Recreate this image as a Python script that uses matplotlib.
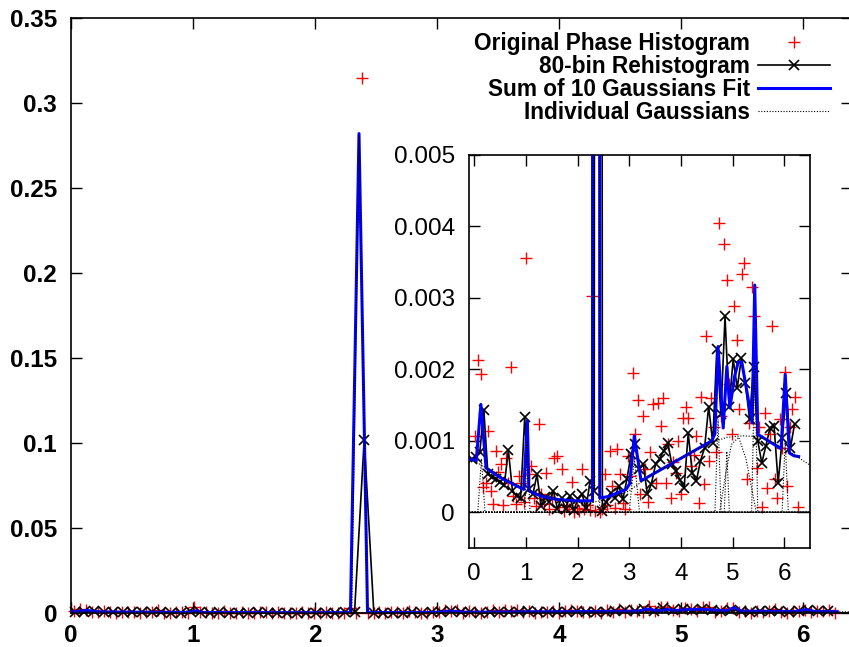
import numpy as np
import matplotlib
matplotlib.use("Agg")
import matplotlib.pyplot as plt
from matplotlib.lines import Line2D
from matplotlib.ticker import FuncFormatter, MultipleLocator

plt.rcParams['font.family'] = ['Liberation Sans', 'DejaVu Sans']

# all y values below are in units of 1e-3
SCALE = 1e-3

# original phase histogram (128 bins over 0..2pi)
orig_vals = [
    1.07, 2.13, 1.94, 0.35, 0.41, 1.14, 0.30, 0.11, 0.86, 0.56,
    0.67, 0.10, 0.76, 0.41, 2.03, 0.23, 0.12, 0.51, 0.41, 0.15,
    3.56, 0.53, 0.65, 0.20, 0.09, 1.23, 0.25, 0.12, 0.55, 0.05,
    0.20, 0.76, 0.79, 0.08, 0.60, 0.02, 0.10, 0.04, 0.43, 0.00,
    0.06, 0.02, 0.61, 0.05, 0.10, 0.03, 3.03, 0.02, 315.0, 0.00,
    0.04, 0.53, 0.10, 0.86, 0.37, 0.06, 0.89, 0.53, 0.13, 0.05,
    0.79, 0.51, 1.95, 1.10, 1.57, 0.25, 1.35, 0.60, 0.15, 0.84,
    1.52, 0.41, 1.53, 1.21, 1.60, 0.41, 0.95, 0.20, 0.70, 0.55,
    1.00, 0.25, 1.32, 1.48, 1.32, 0.65, 0.80, 1.07, 0.13, 1.62,
    0.39, 2.47, 0.72, 1.60, 1.20, 0.85, 4.05, 1.35, 3.75, 3.25,
    1.80, 1.10, 2.89, 2.41, 1.45, 3.33, 3.49, 0.46, 1.25, 3.15,
    2.74, 0.62, 1.20, 0.07, 1.39, 0.34, 1.10, 2.61, 0.46, 0.20,
    1.30, 0.90, 1.97, 0.37, 1.20, 1.44, 1.62, 0.07,
]
orig_x = (np.arange(len(orig_vals)) + 0.5) * 2 * np.pi / len(orig_vals)

# 80-bin rehistogram
rehist_vals = [
    0.74, 0.78, 0.84, 1.43, 0.53, 0.50, 0.46, 0.42, 0.38, 0.87,
    0.30, 0.23, 0.20, 1.33, 0.32, 0.25, 0.53, 0.09, 0.21, 0.15,
    0.30, 0.05, 0.20, 0.05, 0.23, 0.03, 0.18, 0.26, 0.06, 0.44,
    0.30, 102.0, 0.02, 0.15, 0.27, 0.20, 0.37, 0.18, 0.46, 0.81,
    0.95, 0.60, 0.67, 0.25, 0.40, 0.67, 0.75, 0.86, 0.97, 0.67,
    0.58, 0.45, 0.34, 1.11, 0.55, 0.44, 0.72, 0.90, 1.48, 0.97,
    2.29, 1.37, 2.74, 1.48, 2.14, 1.74, 2.16, 1.81, 1.30, 2.04,
    1.00, 0.69, 0.93, 1.18, 1.21, 0.41, 1.04, 1.67, 0.90, 1.23,
]
rehist_x = np.linspace(-0.05, 6.2, len(rehist_vals))

# sum of 10 gaussians fit (as sampled)
fit_x = [-0.1, 0.04, 0.13, 0.23, 0.52, 0.96, 1.03, 1.06, 1.28, 1.60,
         1.92, 2.24, 2.29, 2.36, 2.43, 2.60, 2.94, 3.01, 3.10, 3.23,
         4.60, 4.66, 4.72, 4.82, 4.89, 4.95, 5.04, 5.11, 5.18, 5.30,
         5.38, 5.43, 5.49, 5.94, 6.02, 6.10, 6.19, 6.28]
fit_y = [0.75, 0.72, 1.51, 0.62, 0.48, 0.32, 1.28, 0.30, 0.23, 0.18,
         0.16, 0.16, 0.16, 282.0, 0.20, 0.22, 0.32, 0.40, 1.07, 0.44,
         1.00, 1.10, 2.32, 1.18, 2.04, 1.46, 1.90, 2.10, 2.10, 1.60,
         1.25, 3.18, 1.09, 0.89, 1.93, 0.83, 0.79, 0.78]

# individual gaussians
g_broad_x = [-0.1, 0.3, 0.6, 1.0, 1.4, 1.8, 2.2, 2.6, 3.0, 3.4, 3.8, 4.2, 4.6, 4.9, 5.2, 5.5, 5.8, 6.1, 6.5]
g_broad_y = [0.75, 0.6, 0.47, 0.32, 0.22, 0.15, 0.13, 0.18, 0.3, 0.51, 0.67, 0.84, 0.98, 1.05, 1.07, 1.06, 0.97, 0.85, 0.66]
g_a_x = [-0.1, 0.07, 0.14, 0.21, 6.5]
g_a_y = [0, 0, 0.75, 0, 0]
g_b_x = [-0.1, 0.98, 1.03, 1.08, 6.5]
g_b_y = [0, 0, 1.0, 0, 0]
g_main_x = [-0.1, 2.30, 2.36, 2.43, 6.5]
g_main_y = [0, 0, 281.0, 0, 0]
g_c_x = [-0.1, 3.0, 3.1, 3.2, 6.5]
g_c_y = [0, 0, 0.75, 0, 0]
g_d_x = [-0.1, 4.66, 4.72, 4.78, 6.5]
g_d_y = [0, 0, 1.3, 0, 0]
g_e_x = [-0.1, 4.84, 4.89, 4.94, 6.5]
g_e_y = [0, 0, 0.85, 0, 0]
g_h_x = [-0.1, 4.75, 4.87, 4.98, 5.12, 5.26, 5.46, 6.5]
g_h_y = [0, 0, 0.55, 0.95, 1.05, 0.75, 0, 0]
g_f_x = [-0.1, 5.37, 5.43, 5.49, 6.5]
g_f_y = [0, 0, 2.1, 0, 0]
g_g_x = [-0.1, 5.96, 6.02, 6.08, 6.5]
g_g_y = [0, 0, 1.0, 0, 0]
gaussians = [(g_broad_x, g_broad_y), (g_a_x, g_a_y), (g_b_x, g_b_y), (g_main_x, g_main_y),
             (g_c_x, g_c_y), (g_d_x, g_d_y), (g_e_x, g_e_y), (g_h_x, g_h_y),
             (g_f_x, g_f_y), (g_g_x, g_g_y)]

labels = ["Original Phase Histogram", "80-bin Rehistogram",
          "Sum of 10 Gaussians Fit", "Individual Gaussians"]

FS = 17.5    # tick labels
LFS = 16.3   # legend
dot_style = dict(color="black", lw=0.8, ls=(0, (1, 1.5)))


def draw(ax, main):
    ox = np.asarray(orig_x)
    oy = np.asarray(orig_vals) * SCALE
    rx = np.asarray(rehist_x)
    ry = np.asarray(rehist_vals) * SCALE
    if main:
        keep = rx >= 0
        rx, ry = rx[keep], ry[keep]
    ax.plot(ox, oy, ls="none", marker="+", color="red", ms=8.5, mew=1.0,
            clip_on=not main, zorder=2)
    ax.plot(rx, ry, color="black", lw=1.2, marker="x", ms=7, mew=1.2,
            clip_on=not main, zorder=3)
    ax.plot(fit_x, np.asarray(fit_y) * SCALE, color="blue", lw=2.2, zorder=4)
    for gx, gy in gaussians:
        ax.plot(gx, np.asarray(gy) * SCALE, zorder=5, **dot_style)


fig = plt.figure(figsize=(8.49, 6.47), dpi=100)

# main axes
ax = fig.add_axes([71 / 849, 34 / 647, 781 / 849, 595 / 647])
draw(ax, True)
ax.set_xlim(0, 6.4)
ax.set_ylim(0, 0.35)
ax.xaxis.set_major_locator(MultipleLocator(1))
ax.yaxis.set_major_locator(MultipleLocator(0.05))
ax.yaxis.set_major_formatter(FuncFormatter(lambda v, p: f"{v:g}"))
ax.tick_params(direction="in", top=True, right=True, length=8, width=1,
               labelsize=FS)
ax.tick_params(axis="y", pad=10)
ax.tick_params(axis="x", pad=8)
for t in ax.get_xticklabels() + ax.get_yticklabels():
    t.set_fontweight("bold")
for s in ax.spines.values():
    s.set_linewidth(1.2)

handles = [
    Line2D([], [], ls="none", marker="+", color="red", ms=8.5, mew=1.0),
    Line2D([], [], color="black", lw=1.2, marker="x", ms=7, mew=1.2),
    Line2D([], [], color="blue", lw=2.2),
    Line2D([], [], **dot_style),
]
ax.legend(handles, labels, loc="upper right", bbox_to_anchor=(0.972, 0.977),
          frameon=False, markerfirst=False, handlelength=3.2,
          handletextpad=0.35, labelspacing=0.0, borderpad=0,
          borderaxespad=0, numpoints=1,
          prop={"weight": "bold", "size": LFS})

# inset zoom
axin = fig.add_axes([469 / 849, 99 / 647, 341 / 849, 393 / 647])
axin.set_facecolor("white")
draw(axin, False)
axin.set_xlim(-0.1, 6.5)
axin.set_ylim(-0.0005, 0.005)
axin.xaxis.set_major_locator(MultipleLocator(1))
axin.yaxis.set_major_locator(MultipleLocator(0.001))
axin.yaxis.set_major_formatter(FuncFormatter(lambda v, p: f"{v:g}"))
axin.tick_params(direction="in", top=True, right=True, length=8, width=1,
                 labelsize=FS)
axin.tick_params(axis="y", pad=10)
axin.tick_params(axis="x", pad=11)
for s in axin.spines.values():
    s.set_linewidth(1.2)

fig.savefig("out.png", dpi=100)
